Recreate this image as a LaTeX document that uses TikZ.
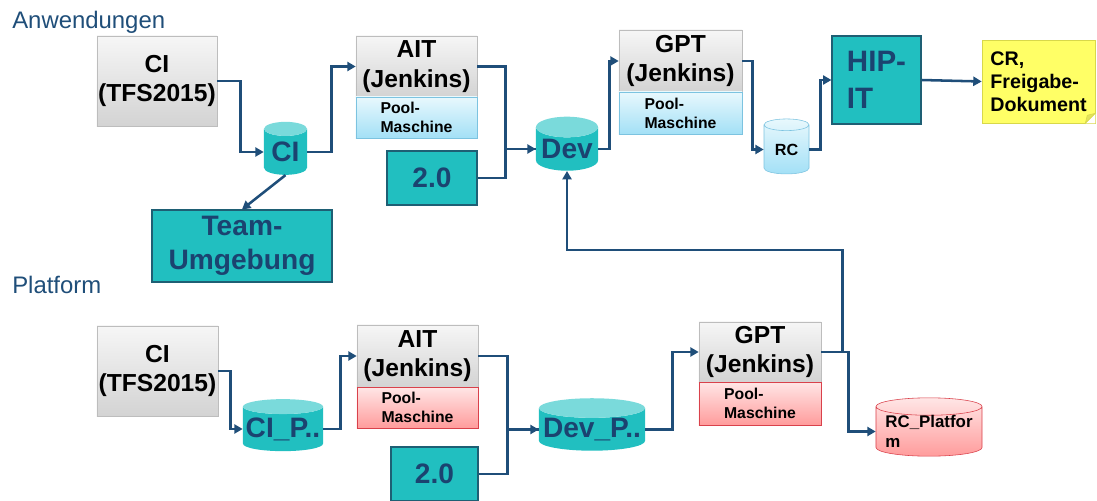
\documentclass[tikz,border=0pt]{standalone}
\usepackage{fontspec}
\setmainfont{Liberation Sans}
\usepackage{tikz}
\usetikzlibrary{arrows.meta}
\usetikzlibrary{shapes.geometric}
\usetikzlibrary{shadows}

\definecolor{linie}{HTML}{1F4E79}
\definecolor{kopf}{HTML}{1F4E79}
\definecolor{dunkelblau}{HTML}{1B4370}
\definecolor{tuerkis}{HTML}{21BFC0}
\definecolor{tuerkishell}{HTML}{7ADADB}
\definecolor{tuerkisrand}{HTML}{1E5F74}
\definecolor{grauoben}{HTML}{F6F6F6}
\definecolor{grauunten}{HTML}{D3D3D3}
\definecolor{graurand}{HTML}{BDBDBD}
\definecolor{blauoben}{HTML}{E8F8FD}
\definecolor{blauunten}{HTML}{A3E0F6}
\definecolor{blaurand}{HTML}{7CC3E0}
\definecolor{rotoben}{HTML}{FFE6E6}
\definecolor{rotunten}{HTML}{FF9C9C}
\definecolor{rotrand}{HTML}{D9414B}
\definecolor{notiz}{HTML}{FFFF66}
\definecolor{notizrand}{HTML}{D8D84A}
\definecolor{notizecke}{HTML}{E2E25A}

\begin{document}
\begin{tikzpicture}[x=0.025cm, y=-0.025cm,
  flow/.style={draw=linie, line width=1.8pt, -{Triangle[length=6pt,width=6.5pt]}},
  flowline/.style={draw=linie, line width=1.8pt},
  graybox/.style={draw=graurand, top color=grauoben, bottom color=grauunten,
    drop shadow={shadow xshift=1pt, shadow yshift=-1pt, opacity=0.25},
    font=\fontsize{17.5}{21}\selectfont\bfseries, align=center, inner sep=0pt},
  poolblue/.style={draw=blaurand, top color=blauoben, bottom color=blauunten,
    font=\fontsize{11.2}{13.5}\selectfont\bfseries, align=left, inner sep=0pt},
  poolred/.style={draw=rotrand, top color=rotoben, bottom color=rotunten,
    font=\fontsize{11.2}{13.5}\selectfont\bfseries, align=left, inner sep=0pt},
  tealbox/.style={draw=tuerkisrand, line width=0.8pt, fill=tuerkis, text=dunkelblau,
    font=\fontsize{20}{24}\selectfont\bfseries, align=center, inner sep=0pt},
  tealdb/.style={cylinder, shape border rotate=90, cylinder uses custom fill,
    cylinder body fill=tuerkis, cylinder end fill=tuerkishell, text=dunkelblau,
    font=\fontsize{20}{24}\selectfont\bfseries, inner sep=0pt},
  headline/.style={anchor=base west, inner sep=0pt, text=kopf,
    font=\fontsize{17}{20}\selectfont}]

\useasboundingbox (0, 0) rectangle (1097, 500);

\draw (12, 28) node[headline] (anw) {Anwendungen};
\draw (12, 293) node[headline] (plat) {Platform};

\draw (157, 81) node[graybox, minimum width=3cm, minimum height=2.25cm] (ci) {CI\\(TFS2015)};
\draw (285.5, 152) node[tealdb, minimum width=1.075cm, minimum height=1.325cm, aspect=0.5] (cidb) {CI};
\draw (242, 246) node[tealbox, minimum width=4.5cm, minimum height=1.8cm] (team) {Team-\\Umgebung};

\draw (416.5, 66.5) node[graybox, minimum width=3.025cm, minimum height=1.525cm] (ait) {AIT\\(Jenkins)};
\draw (416.5, 117.5) node[poolblue, minimum width=3.025cm, minimum height=1.025cm] (aitpool) {Pool-\\Maschine};
\draw (432, 178) node[tealbox, minimum width=2.25cm, minimum height=1.35cm] (zwei) {2.0};
\draw (567, 149) node[tealdb, minimum width=1.55cm, minimum height=1.35cm, aspect=0.4] (dev) {Dev};

\draw (680.5, 61) node[graybox, minimum width=3.075cm, minimum height=1.55cm] (gpt) {GPT\\(Jenkins)};
\draw (680.5, 113) node[poolblue, minimum width=3.075cm, minimum height=1.05cm] (gptpool) {Pool-\\Maschine};
\draw (786.5, 149.5) node[cylinder, shape border rotate=90, draw=blaurand,
  top color=blauoben, bottom color=blauunten, minimum width=1.125cm, minimum height=1.375cm,
  aspect=0.5, inner sep=0pt, font=\fontsize{11.5}{13.5}\selectfont\bfseries] (rc) {RC};
\draw (876.5, 80) node[tealbox, minimum width=2.225cm, minimum height=2.2cm,
  font=\fontsize{21}{26}\selectfont\bfseries, align=left] (hip) {HIP-\\IT};
\draw (1038.5, 81.5) node[draw=notizrand, fill=notiz, minimum width=2.825cm, minimum height=2.075cm,
  inner sep=0pt, align=left, font=\fontsize{14}{16.5}\selectfont\bfseries] (cr) {CR,\\Freigabe-\\Dokument};
\fill[white] (cr.south east) -- ++(-10, 0) -- ++(10, -10) -- cycle;
\filldraw[draw=notizrand, fill=notizecke] (cr.south east) ++(-10, 0) -- ++(10, -10) -- ++(-8, 2) -- cycle;

\draw (157.5, 371) node[graybox, minimum width=3.025cm, minimum height=2.25cm] (cip) {CI\\(TFS2015)};
\draw (283, 429) node[tealdb, minimum width=2cm, minimum height=1.3cm, aspect=0.2] (cipdb) {CI\_P..};
\draw (417.5, 356) node[graybox, minimum width=3.025cm, minimum height=1.55cm] (aitp) {AIT\\(Jenkins)};
\draw (417.5, 407.5) node[poolred, minimum width=3.025cm, minimum height=1.025cm] (aitppool) {Pool-\\Maschine};
\draw (434.5, 474) node[tealbox, minimum width=2.175cm, minimum height=1.35cm] (zweip) {2.0};
\draw (592, 429.5) node[tealdb, minimum width=2.65cm, minimum height=1.275cm, aspect=0.2] (devp) {Dev\_P..};
\draw (760, 352) node[graybox, minimum width=3.05cm, minimum height=1.5cm] (gptp) {GPT\\(Jenkins)};
\draw (760, 403.5) node[poolred, minimum width=3.05cm, minimum height=1.075cm] (gptppool) {Pool-\\Maschine};
\draw (929, 431.5) node[cylinder, shape border rotate=90, draw=rotrand,
  top color=rotoben, bottom color=rotunten, minimum width=2.65cm, minimum height=1.325cm,
  aspect=0.2, inner sep=0pt, align=left, font=\fontsize{12}{14}\selectfont\bfseries] (rcp) {RC\_Platfor\\m};

\draw[flow] (ci.east) -- ++(23, 0) |- (cidb.west);
\draw[flow] (cidb.south) -- (team.north);
\draw[flow] (cidb.east) -- ++(24, 0) |- (ait.west);
\draw[flow] (ait.east) -- ++(28, 0) |- (dev.west);
\draw[flowline] (zwei.east) -- ++(28, 0) |- (dev.west);
\draw[flow] (dev.east) -- ++(11, 0) |- (gpt.west);
\draw[flow] (gpt.east) -- ++(10, 0) |- (rc.west);
\draw[flow] (rc.east) -- ++(11, 0) |- (hip.west);
\draw[flow] (hip.east) -- (cr.west);

\draw[flow] (cip.east) -- ++(12, 0) |- (cipdb.west);
\draw[flow] (cipdb.east) -- ++(17, 0) |- (aitp.west);
\draw[flow] (aitp.east) -- ++(29, 0) |- (devp.west);
\draw[flowline] (zweip.east) -- ++(29, 0) |- (devp.west);
\draw[flow] (devp.east) -- ++(27, 0) |- (gptp.west);
\draw[flow] (gptp.east) -- ++(21, 0) -- ++(0, -102) -| (dev.south);
\draw[flow] (gptp.east) -- ++(27, 0) |- (rcp.west);

\end{tikzpicture}
\end{document}
